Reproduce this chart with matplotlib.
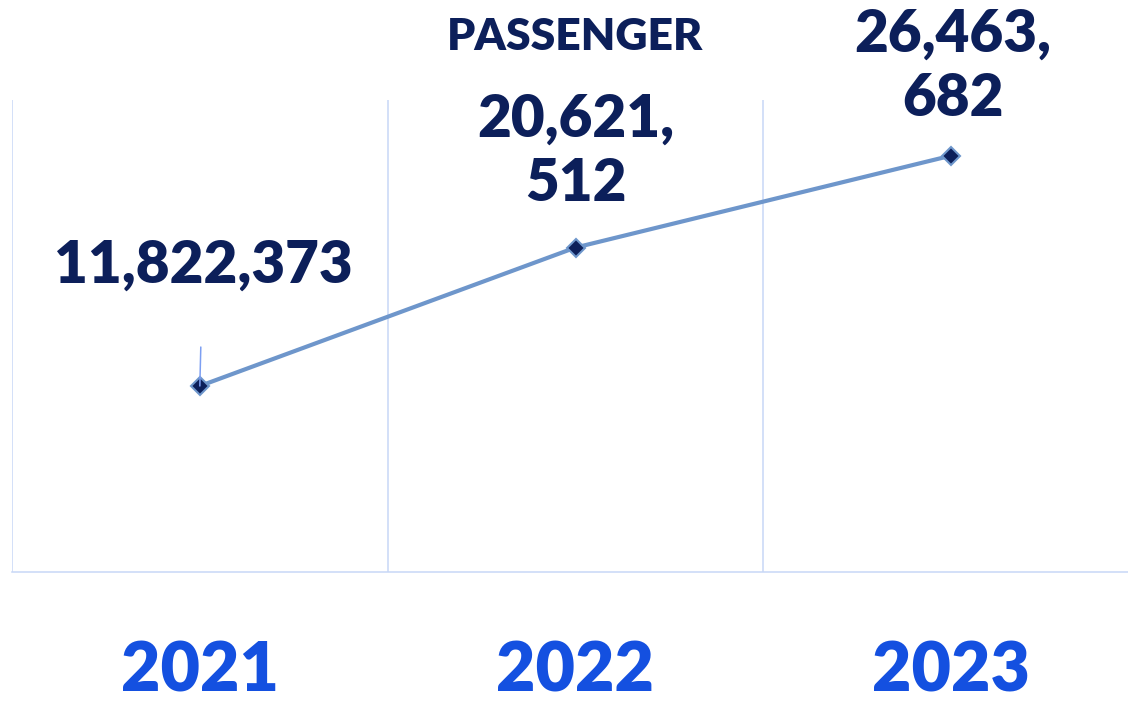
"""Passenger totals 2021-2023, single line with big value labels."""
import matplotlib
matplotlib.use("Agg")
import matplotlib.pyplot as plt

years = ["2021", "2022", "2023"]
passengers = [11822373, 20621512, 26463682]
value_labels = ["11,822,373", "20,621,\n512", "26,463,\n682"]
title = "PASSENGER"

NAVY = "#0c1f5a"
LINE = "#6e96cb"
GRID = "#c8d7f6"
YEAR = "#1450e0"
FONT = ["Lato", "DejaVu Sans"]
WEIGHT = "heavy"

plt.rcParams["font.family"] = FONT

fig = plt.figure(figsize=(11.28, 7.25), dpi=100)
ax = fig.add_axes([12 / 1128, 153 / 725, 1127 / 1128, 472 / 725])

x = range(len(years))
ax.plot(x, passengers, color=LINE, lw=3, marker="D", ms=9,
        mfc=NAVY, mec=LINE, mew=1.5, zorder=3, solid_capstyle="round")

ax.set_xlim(-0.5, len(years) - 0.5)
ax.set_ylim(0, 30_000_000)

# category separators
for b in [i - 0.5 for i in range(len(years) + 1)]:
    ax.axvline(b, color=GRID, lw=1.1, zorder=1)

for s in ("top", "right", "left"):
    ax.spines[s].set_visible(False)
ax.spines["bottom"].set_color(GRID)
ax.spines["bottom"].set_linewidth(1.1)
ax.set_yticks([])
ax.set_xticks(list(x), years)
ax.tick_params(axis="x", length=0, pad=49, labelsize=49, labelcolor=YEAR)
for t in ax.get_xticklabels():
    t.set_fontweight(WEIGHT)

# value labels
offsets = [(3, 121), (0, 96), (2, 89)]
for i, (val, lab) in enumerate(zip(passengers, value_labels)):
    dx, dy = offsets[i]
    kw = {}
    if i == 0:
        kw["arrowprops"] = dict(arrowstyle="-", color="#7d9ff2", lw=1.1,
                                shrinkA=38, shrinkB=0)
    ax.annotate(lab, (i, val), xytext=(dx * 0.72, dy * 0.72),
                textcoords="offset points", ha="center", va="center",
                fontsize=42, fontweight=WEIGHT, color=NAVY,
                linespacing=1.25, **kw)

fig.text(575 / 1128, 1 - 37 / 725, title, ha="center", va="center",
         fontsize=32, fontweight=WEIGHT, color=NAVY)

fig.savefig("out.png", dpi=100, facecolor="white")
